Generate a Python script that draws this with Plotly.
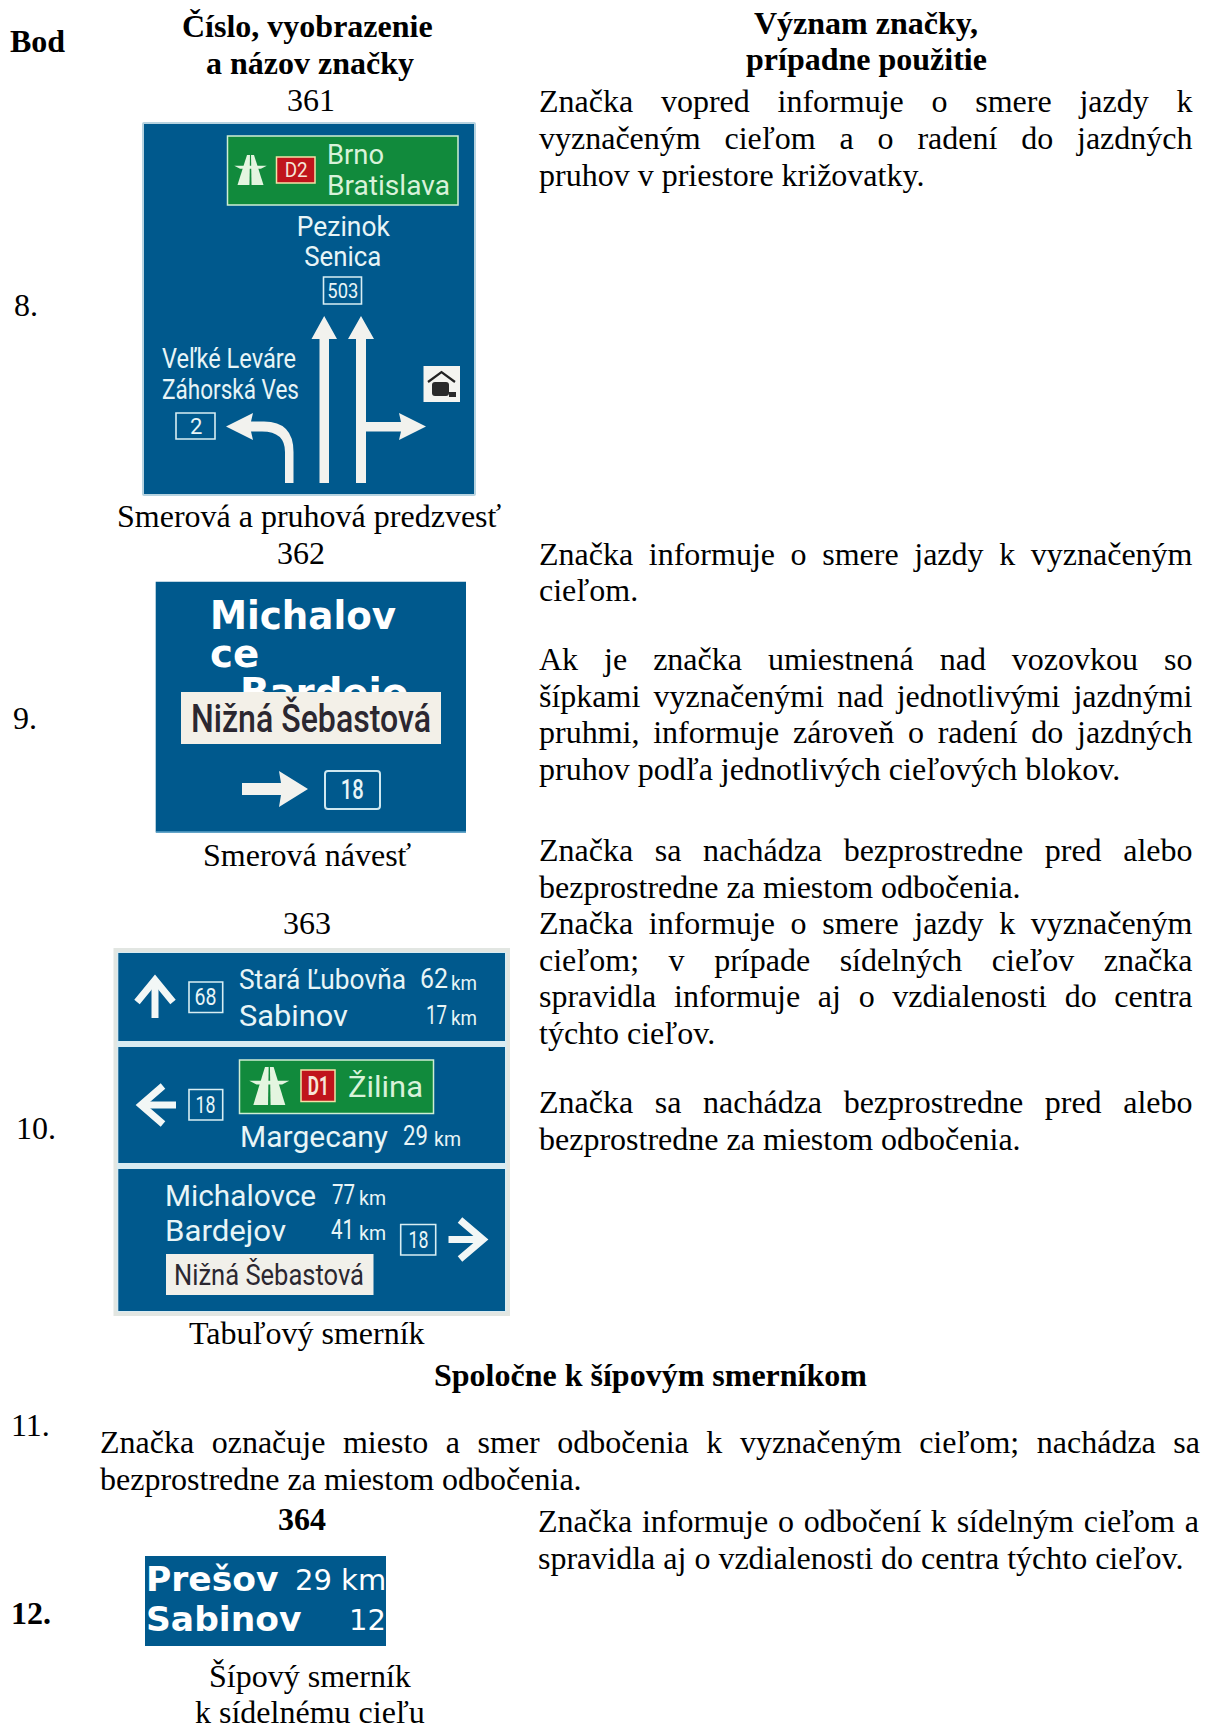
import json
import plotly.graph_objects as go

# ---- texts ----
HEAD_BOD = "Bod"
HEAD_SIGN = ["Číslo, vyobrazenie", "a názov značky"]
HEAD_MEAN = ["Význam značky,", "prípadne použitie"]
POINTS = ["8.", "9.", "10.", "11.", "12."]
SIGN_NUMBERS = ["361", "362", "363", "364"]
SIGN_NAMES = ["Smerová a pruhová predzvesť", "Smerová návesť", "Tabuľový smerník", "Šípový smerník", "k sídelnému cieľu"]
COMMON = "Spoločne k šípovým smerníkom"
MEANING_LINES = [
    "Značka vopred informuje o smere jazdy k", "vyznačeným cieľom a o radení do jazdných", "pruhov v priestore križovatky.",
    "Značka informuje o smere jazdy k vyznačeným", "cieľom.",
    "Ak je značka umiestnená nad vozovkou so", "šípkami vyznačenými nad jednotlivými jazdnými",
    "pruhmi, informuje zároveň o radení do jazdných", "pruhov podľa jednotlivých cieľových blokov.",
    "Značka sa nachádza bezprostredne pred alebo", "bezprostredne za miestom odbočenia.",
    "Značka informuje o smere jazdy k vyznačeným", "cieľom; v prípade sídelných cieľov značka",
    "spravidla informuje aj o vzdialenosti do centra", "týchto cieľov.",
    "Značka sa nachádza bezprostredne pred alebo", "bezprostredne za miestom odbočenia.",
]
POINT11_LINES = ["Značka označuje miesto a smer odbočenia k vyznačeným cieľom; nachádza sa", "bezprostredne za miestom odbočenia."]
POINT12_LINES = ["Značka informuje o odbočení k sídelným cieľom a", "spravidla aj o vzdialenosti do centra týchto cieľov."]

SIGN361 = ["Brno", "Bratislava", "D2", "Pezinok", "Senica", "503", "Veľké Leváre", "Záhorská Ves", "2"]
SIGN362 = ["Michalov", "ce", "Bardejo", "Nižná Šebastová", "18"]
SIGN363 = ["Stará Ľubovňa", "62", "km", "Sabinov", "17", "68", "D1", "Žilina", "Margecany", "29", "18",
           "Michalovce", "77", "Bardejov", "41", "Nižná Šebastová"]
SIGN364 = ["Prešov", "29 km", "Sabinov", "12"]

# ---- styles ----
SERIF = "Liberation Serif"
SANS = "Roboto"
DEJAVU = "DejaVu Sans"
BLUE = "#00598d"
EDGE = "#b7d3e0"
GREEN = "#118a3c"
RED = "#c0141c"
LIGHT = "#e8f5f7"
PALE = "#d9f2da"
DARK = "#2b2730"
BODY = 32

shapes, annos, fits = [], [], {}


def T(text, x, y, size=BODY, font=SERIF, color="#000000", weight=400, anchor="left", fit=None, just=None, **kw):
    if font == SERIF:
        y -= 1
    annos.append(dict(text=text, x=x, y=y, xref="x", yref="y", xanchor=anchor, yanchor="middle", align=anchor,
                      showarrow=False, borderpad=0, borderwidth=0,
                      font=dict(family=font, size=size, color=color, weight=weight), **kw))
    i = len(annos) - 1
    if fit is not None:
        fits[i] = {"fit": fit}
    if just is not None:
        fits[i] = {"just": just}


def rect(x0, y0, x1, y1, fill=None, line=None, lw=1.5, r=0):
    if r:
        p = (f"M{x0+r},{y0}L{x1-r},{y0}Q{x1},{y0} {x1},{y0+r}L{x1},{y1-r}Q{x1},{y1} {x1-r},{y1}"
             f"L{x0+r},{y1}Q{x0},{y1} {x0},{y1-r}L{x0},{y0+r}Q{x0},{y0} {x0+r},{y0}Z")
        shapes.append(dict(type="path", path=p, fillcolor=fill or "rgba(0,0,0,0)",
                           line=dict(color=line or "rgba(0,0,0,0)", width=lw if line else 0)))
    else:
        shapes.append(dict(type="rect", x0=x0, y0=y0, x1=x1, y1=y1, fillcolor=fill or "rgba(0,0,0,0)",
                           line=dict(color=line or "rgba(0,0,0,0)", width=lw if line else 0)))


def poly(pts, fill="#f2f2ee"):
    p = "M" + "L".join(f"{a},{b}" for a, b in pts) + "Z"
    shapes.append(dict(type="path", path=p, fillcolor=fill, line=dict(width=0)))


def stroke(pts, color="#f2f7f6", w=7):
    p = "M" + "L".join(f"{a},{b}" for a, b in pts)
    shapes.append(dict(type="path", path=p, line=dict(color=color, width=w)))


def motorway(cx, top, bot, hw, color):
    h = bot - top
    poly([(cx - hw * .27, top), (cx - hw * .04, top), (cx - hw * .08, bot), (cx - hw, bot)], color)
    poly([(cx + hw * .27, top), (cx + hw * .04, top), (cx + hw * .08, bot), (cx + hw, bot)], color)
    poly([(cx - hw * 1.25, top + .36 * h), (cx + hw * 1.25, top + .36 * h), (cx + hw * .8, top + .46 * h), (cx - hw * .8, top + .46 * h)], color)


def chip(x0, y0, x1, y1, text, size, fit=None, font=SANS):
    rect(x0, y0, x1, y1, None, "#d8eef3", 1.6)
    T(text, (x0 + x1) / 2, (y0 + y1) / 2, size, font, LIGHT, anchor="center", fit=fit)


# ---- page text ----
T(HEAD_BOD, 10, 42, weight=700)
T(HEAD_SIGN[0], 307, 27, weight=700, anchor="center")
T(HEAD_SIGN[1], 310, 64, weight=700, anchor="center")
T(HEAD_MEAN[0], 866, 23.5, weight=700, anchor="center")
T(HEAD_MEAN[1], 866, 60, weight=700, anchor="center")
for txt, x, y in zip(SIGN_NUMBERS[:3], [310.5, 301, 307], [100.5, 553.5, 923.5]):
    T(txt, x, y, anchor="center")
T(SIGN_NUMBERS[3], 302, 1520, weight=700, anchor="center")
for txt, x, y in zip(SIGN_NAMES, [309.5, 307, 307, 309.5, 309.5], [517, 856, 1334, 1677, 1713]):
    T(txt, x, y, anchor="center")
for txt, x, y, w in zip(POINTS, [14, 13, 16, 11, 11], [305.5, 719, 1129, 1426, 1614], [400, 400, 400, 400, 700]):
    T(txt, x, y, weight=w)
T(COMMON, 650, 1376, weight=700, anchor="center")

MEAN_Y = [101.5, 138.5, 176, 554.5, 591, 660, 696.5, 733, 769.5, 851, 888, 924, 961, 997, 1033.5, 1103, 1139.5]
MEAN_JUST = [1, 1, 0, 1, 0, 1, 1, 1, 0, 1, 0, 1, 1, 1, 0, 1, 0]
for txt, y, j in zip(MEANING_LINES, MEAN_Y, MEAN_JUST):
    T(txt, 539, y, just=653.5 if j else None)
T(POINT11_LINES[0], 100, 1443, just=1100)
T(POINT11_LINES[1], 100, 1480)
T(POINT12_LINES[0], 537.5, 1522, just=661)
T(POINT12_LINES[1], 537.5, 1559)

# ---- sign 361 ----
rect(143, 123, 475, 495, BLUE, EDGE, 2, 1)
rect(227.5, 136, 458, 205, GREEN, "#cfeed3", 1.5)
motorway(250.5, 155, 185, 13, "#e4f5e0")
rect(276.5, 157, 315, 183, RED, "#f3e2a6", 1.5)
T(SIGN361[2], 295.7, 170, 20, SANS, "#f6e6d8", anchor="center", fit=23)
T(SIGN361[0], 327, 155, 27, SANS, PALE, fit=57)
T(SIGN361[1], 327, 186, 27, SANS, PALE, fit=123)
T(SIGN361[3], 343, 226, 28, SANS, LIGHT, anchor="center", fit=93)
T(SIGN361[4], 343, 256, 28, SANS, LIGHT, anchor="center", fit=77)
chip(323.5, 277, 361.5, 304, SIGN361[5], 20, fit=31)
T(SIGN361[6], 162, 359, 27, SANS, LIGHT, fit=134)
T(SIGN361[7], 162, 390, 27, SANS, LIGHT, fit=137)
chip(176, 413, 215, 439, SIGN361[8], 22)
poly([(319.5, 483), (319.5, 339), (311.5, 339), (324.2, 316), (337, 339), (329, 339), (329, 483)])
poly([(356, 483), (356, 339), (348, 339), (361, 316), (374, 339), (366, 339), (366, 483)])
poly([(366, 422), (401, 422), (399, 413), (426, 426.5), (399, 440), (401, 431.5), (366, 431.5)])
shapes.append(dict(type="path",
                   path="M285,483L285,452Q285,431.5 262,431.5L251,431.5L253,440L226,426.5L253,413L251,421.5L264,421.5Q293.5,421.5 293.5,452L293.5,483Z",
                   fillcolor="#f2f2ee", line=dict(width=0)))
rect(423.5, 366, 460, 402, "#f4f4f0")
stroke([(428, 382), (441.5, 372), (455, 382)], "#222222", 2.2)
rect(432, 382, 449, 396, "#2a2a2a", None, 0, 3)
rect(449, 392, 456, 397, "#2a2a2a")

# ---- sign 362 ----
rect(155.7, 581.7, 466, 832.5, BLUE, None)
stroke([(156, 832), (466, 832)], "#5aa2c9", 1.5)
T(SIGN362[0], 209.7, 615, 38.7, DEJAVU, "#ffffff", 700, fit=186)
T(SIGN362[1], 209.7, 653, 38.7, DEJAVU, "#ffffff", 700)
T(SIGN362[2], 240, 692, 38.7, DEJAVU, "#ffffff", 700)
T(SIGN362[3], 311, 718, 38, SANS, DARK, 500, anchor="center", fit=240, width=260, height=52, bgcolor="#f3f0e8")
poly([(242, 783), (281, 783), (279, 771), (308, 789), (279, 807), (281, 795), (242, 795)])
rect(325, 771, 380, 809, None, "#cfe8f0", 2, 3)
T(SIGN362[4], 352.5, 790, 27, SANS, LIGHT, 500, anchor="center", fit=23)

# ---- sign 363 ----
rect(113.5, 948, 510, 1316, "#e2e6e2")
rect(117, 952, 506.5, 1312, "#d8ebf2")
rect(118.3, 953, 505, 1041, BLUE)
rect(118.3, 1047, 505, 1163, BLUE)
rect(118.3, 1169, 505, 1311, BLUE)
# panel 1
stroke([(155, 1018), (155, 980)])
stroke([(137, 1002), (155, 980), (173, 1002)])
chip(189, 982, 222.7, 1012.5, SIGN363[5], 24, fit=22)
T(SIGN363[0], 238.5, 979, 28, SANS, LIGHT, fit=167)
T(SIGN363[1], 420, 979, 27, SANS, LIGHT, fit=28)
T(SIGN363[2], 451, 983, 21, SANS, LIGHT, fit=26)
T(SIGN363[3], 238.5, 1015, 30, SANS, LIGHT, fit=109)
T(SIGN363[4], 426, 1015, 26, SANS, LIGHT, fit=21)
T(SIGN363[2], 451, 1018, 21, SANS, LIGHT, fit=26)
# panel 2
stroke([(176, 1105), (141, 1105)])
stroke([(163, 1086), (141, 1105), (163, 1124)])
chip(189, 1089.5, 222.7, 1120, SIGN363[10], 24, fit=20)
rect(239.5, 1060, 433.5, 1113.5, GREEN, "#cfeed3", 1.5)
motorway(269.3, 1067, 1105, 16, "#e4f5e0")
rect(301, 1070, 335, 1101.5, RED, "#f3e2a6", 1.5)
T(SIGN363[6], 318, 1086, 25, SANS, "#f6e6d8", 700, anchor="center", fit=21)
T(SIGN363[7], 347.5, 1086, 30, SANS, PALE, fit=75)
T(SIGN363[8], 239.5, 1136, 30, SANS, LIGHT, fit=148)
T(SIGN363[9], 403, 1136, 27, SANS, LIGHT, fit=25)
T(SIGN363[2], 434, 1139, 21, SANS, LIGHT, fit=27)
# panel 3
T(SIGN363[11], 164.5, 1195, 30, SANS, LIGHT, fit=151)
T(SIGN363[12], 332, 1195, 27, SANS, LIGHT, fit=23)
T(SIGN363[2], 359, 1198, 21, SANS, LIGHT, fit=27)
T(SIGN363[13], 165, 1230, 30, SANS, LIGHT, fit=121)
T(SIGN363[14], 331, 1230, 27, SANS, LIGHT, fit=23)
T(SIGN363[2], 359, 1233, 21, SANS, LIGHT, fit=27)
rect(166, 1254, 373.5, 1295, "#f1f0ea")
T(SIGN363[15], 174, 1275, 29, SANS, DARK, fit=190)
chip(400.7, 1224.5, 435.7, 1255, SIGN363[10], 24, fit=20)
stroke([(448.5, 1239.5), (483, 1239.5)])
stroke([(460, 1220), (483, 1239.5), (460, 1259)])

# ---- sign 364 ----
rect(145, 1556, 386, 1646, BLUE)
T(SIGN364[0], 145.5, 1579, 34.5, DEJAVU, "#ffffff", 700)
T(SIGN364[1], 385.5, 1580, 29, DEJAVU, "#ffffff", anchor="right")
T(SIGN364[2], 145.5, 1619, 34.5, DEJAVU, "#ffffff", 700)
T(SIGN364[3], 385.5, 1620, 29, DEJAVU, "#ffffff", anchor="right")

fig = go.Figure()
fig.update_layout(width=1205, height=1727, margin=dict(l=0, r=0, t=0, b=0), paper_bgcolor="#ffffff",
                  plot_bgcolor="#ffffff", showlegend=False, shapes=shapes, annotations=annos,
                  xaxis=dict(range=[0, 1205], visible=False, fixedrange=True),
                  yaxis=dict(range=[1727, 0], visible=False, fixedrange=True))

POST = """
document.body.style.margin='0';document.documentElement.style.overflow='hidden';
var FITS=%s;
Object.keys(FITS).forEach(function(i){
  var t=document.querySelector('g.annotation[data-index="'+i+'"] text.annotation-text');
  if(!t)return;var f=FITS[i];
  if(f.fit){t.setAttribute('textLength',f.fit);t.setAttribute('lengthAdjust','spacingAndGlyphs');}
  if(f.just){var n=t.textContent.split(' ').length-1;var w=t.getComputedTextLength();
    t.style.wordSpacing=((f.just-w)/n)+'px';}
});
""" % json.dumps(fits)
fig.write_html("out.html", post_script=POST, config={"displayModeBar": False})
